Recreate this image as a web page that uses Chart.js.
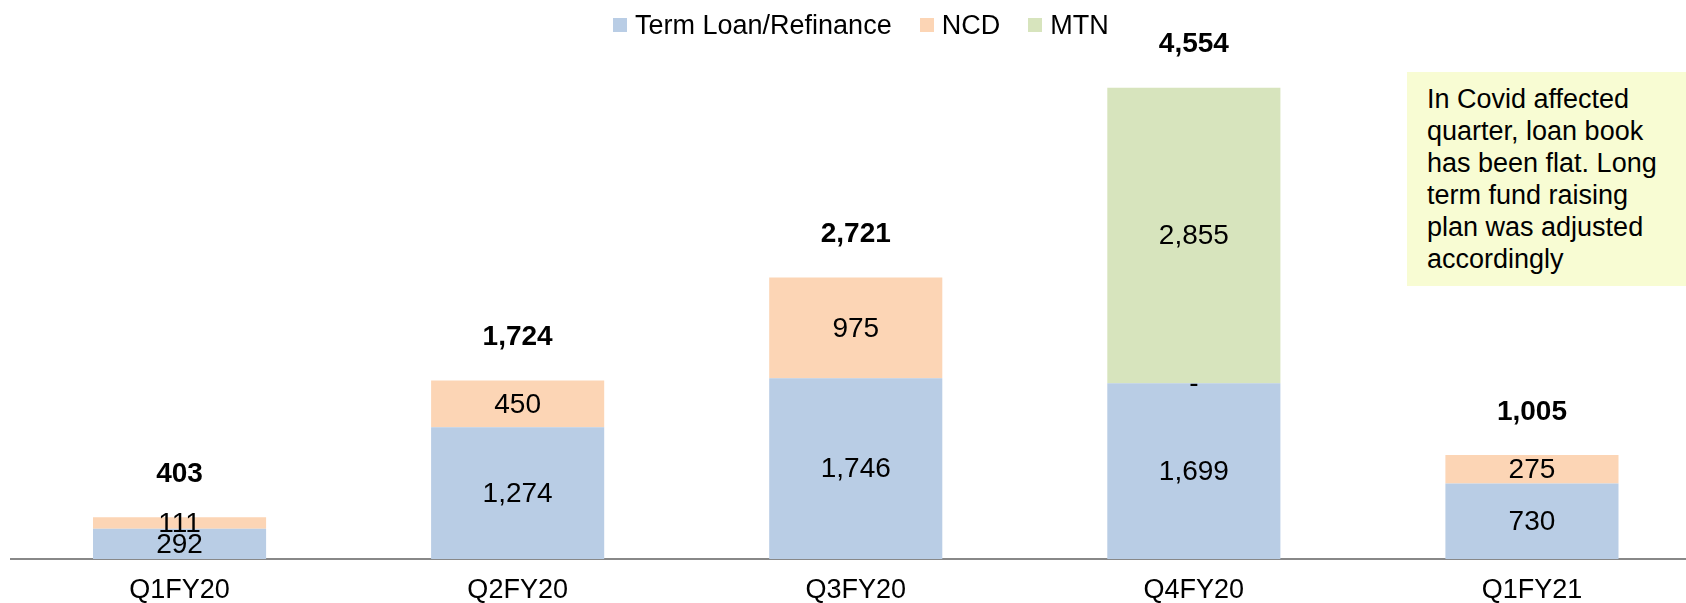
<!DOCTYPE html>
<html>
<head>
<meta charset="utf-8">
<script src="https://cdn.jsdelivr.net/npm/chart.js@4.4.1/dist/chart.umd.min.js"></script>
<style>
  html, body { margin: 0; padding: 0; background: #fff; }
  body { width: 1686px; height: 603px; overflow: hidden; position: relative;
         font-family: "Liberation Sans", Arial, sans-serif; }
  #chart { position: absolute; left: 0; top: 0; }
  #legend { position: absolute; left: 613px; top: 8px; height: 34px;
            display: flex; align-items: center; font-size: 27px; color: #000; }
  #legend .item { display: flex; align-items: center; margin-right: 28px; }
  #legend .box { width: 14px; height: 14px; margin-right: 8px; }
  #note { position: absolute; left: 1407px; top: 72px; width: 279px; height: 214px;
          box-sizing: border-box; padding: 11px 0 0 20px; background: #f8fcd3;
          font-size: 27px; line-height: 32px; color: #000; white-space: nowrap; }
</style>
</head>
<body>
<canvas id="chart" width="1701" height="623"></canvas>
<div id="legend"></div>
<div id="note"></div>
<script>
const categories = ['Q1FY20', 'Q2FY20', 'Q3FY20', 'Q4FY20', 'Q1FY21']
const termLoan = [292, 1274, 1746, 1699, 730]
const ncd = [111, 450, 975, 0, 275]
const mtn = [null, null, null, 2855, null]
const seriesNames = ['Term Loan/Refinance', 'NCD', 'MTN']
const seriesColors = ['#b9cde5', '#fcd5b5', '#d7e4bd']
const noteLines = ['In Covid affected', 'quarter, loan book', 'has been flat. Long',
  'term fund raising', 'plan was adjusted', 'accordingly']

const FONT = '"Liberation Sans", Arial, sans-serif'

// stack totals shown in bold above each bar
const totals = categories.map((c, i) => termLoan[i] + ncd[i] + (mtn[i] || 0))

function fmt (v) {
  return v === 0 ? '-' : v.toLocaleString('en-US')
}

const labelPlugin = {
  id: 'barLabels',
  afterDatasetsDraw (chart) {
    const ctx = chart.ctx
    ctx.save()
    ctx.fillStyle = '#000'
    ctx.textAlign = 'center'
    ctx.textBaseline = 'middle'
    ctx.font = '28px ' + FONT
    chart.data.datasets.forEach((ds, i) => {
      chart.getDatasetMeta(i).data.forEach((bar, j) => {
        const v = ds.data[j]
        if (v === null) return
        ctx.fillText(fmt(v), bar.x, (bar.y + bar.base) / 2 + 1)
      })
    })
    // totals
    ctx.font = 'bold 28px ' + FONT
    const y = chart.scales.y
    const first = chart.getDatasetMeta(0).data
    totals.forEach((t, j) => {
      ctx.fillText(fmt(t), first[j].x, y.getPixelForValue(t) - 43)
    })
    ctx.restore()
  }
}

const datasets = [termLoan, ncd, mtn].map((d, i) => ({
  label: seriesNames[i],
  data: d,
  backgroundColor: seriesColors[i],
  borderWidth: 0,
  barPercentage: 0.512,
  categoryPercentage: 1
}))

const chart = new Chart(document.getElementById('chart'), {
  type: 'bar',
  data: { labels: categories, datasets: datasets },
  options: {
    responsive: false,
    animation: false,
    devicePixelRatio: 1,
    layout: { padding: { left: 10.5, right: 0, top: 41.5, bottom: 1 } },
    plugins: {
      legend: { display: false },
      tooltip: { enabled: false }
    },
    scales: {
      x: {
        stacked: true,
        grid: { display: false, drawTicks: false },
        border: { display: true, color: '#888888', width: 2 },
        ticks: { color: '#000', padding: 18, font: { family: FONT, size: 27, lineHeight: 1 } }
      },
      y: {
        stacked: true,
        display: false,
        min: 0,
        max: 5000
      }
    }
  },
  plugins: [labelPlugin]
})

// legend built from the chart's datasets
const legend = document.getElementById('legend')
chart.data.datasets.forEach(ds => {
  const item = document.createElement('div')
  item.className = 'item'
  const box = document.createElement('div')
  box.className = 'box'
  box.style.background = ds.backgroundColor
  const txt = document.createElement('span')
  txt.textContent = ds.label
  item.appendChild(box)
  item.appendChild(txt)
  legend.appendChild(item)
})

document.getElementById('note').innerHTML = noteLines.join('<br>')
</script>
</body>
</html>
